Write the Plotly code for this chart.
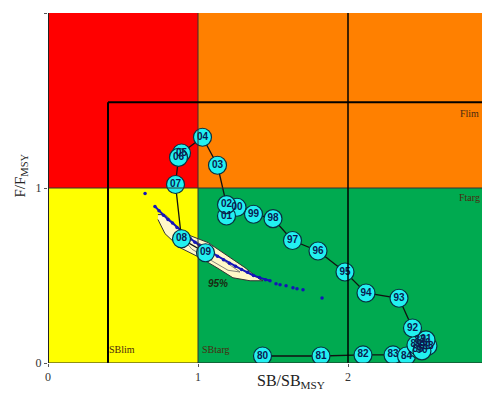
import plotly.graph_objects as go

# Trajectory (year labels and SB/SBmsy, F/Fmsy)
years = ["80", "81", "82", "83", "84", "85", "86", "87", "88", "89", "90", "91",
         "92", "93", "94", "95", "96", "97", "98", "99", "00", "01", "02", "03",
         "04", "05", "06", "07", "08", "09"]
sb = [1.43, 1.82, 2.10, 2.30, 2.39, 2.467, 2.513, 2.48, 2.533, 2.453, 2.493, 2.52,
      2.43, 2.34, 2.12, 1.98, 1.80, 1.63, 1.50, 1.37, 1.26, 1.19, 1.19, 1.13,
      1.03, 0.89, 0.87, 0.85, 0.89, 1.05]
f = [0.04, 0.04, 0.046, 0.046, 0.04, 0.080, 0.109, 0.126, 0.097, 0.103, 0.069, 0.132,
     0.20, 0.37, 0.40, 0.52, 0.64, 0.70, 0.825, 0.85, 0.89, 0.84, 0.905, 1.13,
     1.29, 1.20, 1.175, 1.02, 0.71, 0.63]

# Bootstrap points
boot_x = [0.713, 0.74, 0.77, 0.80, 0.83, 0.86, 0.89, 0.92, 0.95, 0.98, 1.01,
          1.05, 1.09, 1.13, 1.17, 1.21, 1.25, 1.29, 1.33, 1.37, 1.41, 1.45, 1.48]
boot_y = [0.894, 0.87, 0.845, 0.82, 0.80, 0.775, 0.752, 0.73, 0.71, 0.69, 0.672,
          0.65, 0.63, 0.61, 0.59, 0.57, 0.553, 0.535, 0.518, 0.50, 0.488, 0.476, 0.47]
stray_x = [0.647, 1.52, 1.547, 1.587, 1.633, 1.66, 1.70, 1.827]
stray_y = [0.968, 0.453, 0.447, 0.441, 0.43, 0.424, 0.418, 0.372]

# 95% contour outline
cont_x = [0.733, 0.78, 0.86, 0.947, 1.067, 1.2, 1.313, 1.407, 1.433, 1.347, 1.233,
          1.127, 1.013, 0.88, 0.78, 0.733]
cont_y = [0.848, 0.848, 0.779, 0.728, 0.688, 0.613, 0.545, 0.481, 0.47, 0.47, 0.487,
          0.544, 0.602, 0.659, 0.739, 0.82]
inner_x = [0.87, 0.95, 1.06, 1.18, 1.28, 1.20, 1.08, 0.96, 0.87]
inner_y = [0.74, 0.71, 0.66, 0.58, 0.52, 0.53, 0.59, 0.65, 0.74]

fig = go.Figure()

# Zones
zones = [(0, 1, 1, 2, "#FF0000"), (1, 3, 1, 2, "#FF8000"),
         (0, 1, 0, 1, "#FFFF00"), (1, 3, 0, 1, "#00AA50")]
shapes = []
for x0, x1, y0, y1, c in zones:
    shapes.append(dict(type="rect", x0=x0, x1=x1, y0=y0, y1=y1, fillcolor=c,
                       line=dict(width=0), layer="below"))
shapes += [
    dict(type="line", x0=1, x1=1, y0=0, y1=2, line=dict(color="#333333", width=1)),
    dict(type="line", x0=0, x1=3, y0=1, y1=1, line=dict(color="#333333", width=1)),
    dict(type="line", x0=0.4, x1=0.4, y0=0, y1=1.49, line=dict(color="black", width=2)),
    dict(type="line", x0=0.4, x1=3, y0=1.49, y1=1.49, line=dict(color="black", width=2)),
    dict(type="line", x0=2, x1=2, y0=0, y1=2, line=dict(color="black", width=1.5)),
    dict(type="line", x0=0, x1=0, y0=0, y1=2, line=dict(color="#222222", width=2)),
    dict(type="line", x0=0, x1=3, y0=0, y1=0, line=dict(color="#222222", width=1)),
]

fig.add_trace(go.Scatter(x=cont_x, y=cont_y, mode="lines", fill="toself",
                         fillcolor="#FFF8C8", line=dict(color="#333333", width=1),
                         hoverinfo="skip"))
fig.add_trace(go.Scatter(x=inner_x, y=inner_y, mode="lines",
                         line=dict(color="#666666", width=0.8), hoverinfo="skip"))
fig.add_trace(go.Scatter(x=boot_x, y=boot_y, mode="lines+markers",
                         line=dict(color="#1515B8", width=2),
                         marker=dict(color="#1515B8", size=3.5), hoverinfo="skip"))
fig.add_trace(go.Scatter(x=stray_x, y=stray_y, mode="markers",
                         marker=dict(color="#1515B8", size=3.5), hoverinfo="skip"))
fig.add_trace(go.Scatter(x=sb, y=f, mode="lines+markers+text", text=years,
                         textposition="middle center",
                         textfont=dict(family="Liberation Sans", size=10,
                                       color="#0A1A50", weight="bold"),
                         line=dict(color="#111111", width=1.3),
                         marker=dict(size=18, color="#22F0F0",
                                     line=dict(color="#0A3040", width=1.2))))

txt = dict(family="Liberation Serif", size=10, color="#4A2A10")
ann = [
    dict(x=2.81, y=1.427, text="Flim", font=txt),
    dict(x=2.81, y=0.946, text="Ftarg", font=txt),
    dict(x=0.49, y=0.075, text="SBlim", font=txt),
    dict(x=1.12, y=0.075, text="SBtarg", font=txt),
    dict(x=1.133, y=0.453, text="<b><i>95%</i></b>",
         font=dict(family="Liberation Sans", size=10, color="#1A2A10")),
    dict(x=0.54, xref="paper", y=-0.085, yref="paper", text="SB/SB<sub>MSY</sub>",
         font=dict(family="Liberation Serif", size=16, color="#222222")),
    dict(x=-0.085, xref="paper", y=0.535, yref="paper", text="F/F<sub>MSY</sub>",
         textangle=-90, font=dict(family="Liberation Serif", size=15, color="#222222")),
]
for a in ann:
    a.setdefault("xref", "x")
    a.setdefault("yref", "y")
    a["showarrow"] = False
fig.update_layout(
    width=490, height=400, margin=dict(l=40, r=0, t=5, b=45),
    paper_bgcolor="white", plot_bgcolor="white", showlegend=False,
    shapes=shapes, annotations=ann,
    xaxis=dict(range=[0, 3.0], tickvals=[0, 1, 2], showgrid=False, zeroline=False,
               ticks="outside", ticklen=3, tickcolor="#555555",
               tickfont=dict(family="Liberation Serif", size=12, color="#333333")),
    yaxis=dict(range=[0, 2], tickvals=[0, 1, 2], showgrid=False, zeroline=False,
               ticks="outside", ticklen=3, tickcolor="#555555",
               tickfont=dict(family="Liberation Serif", size=12, color="#333333")),
)
fig.write_html("out.html")
